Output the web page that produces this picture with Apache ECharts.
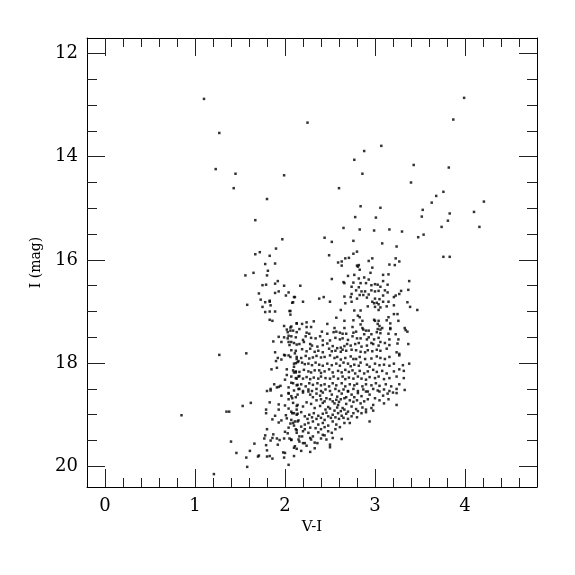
<!DOCTYPE html>
<html><head><meta charset="utf-8">
<script src="https://cdn.jsdelivr.net/npm/echarts@6/dist/echarts.min.js"></script>
<style>html,body{margin:0;padding:0;background:#fff}#c{width:575px;height:575px}</style>
</head><body><div id="c"></div>
<script>
// V-I colour, I magnitude pairs
const brightStars = [[1.10,12.88],[3.99,12.86],[1.27,13.54],[2.25,13.34],[3.87,13.28],[1.23,14.24],[1.45,14.33],[1.99,14.36],[1.43,14.61],[1.80,14.82],[1.67,15.23],[3.07,13.79],[2.88,13.89],[2.77,14.06],[3.43,14.16],[3.82,14.21],[2.86,14.33],[3.40,14.50],[2.60,14.61],[3.76,14.68],[3.68,14.76],[4.21,14.87],[3.63,14.89],[2.84,14.96],[3.06,14.99],[3.53,15.03],[3.83,15.10],[4.10,15.07],[2.78,15.17],[3.01,15.18],[3.52,15.16],[3.81,15.24],[2.65,15.38],[2.83,15.41],[2.99,15.43],[3.16,15.41],[3.30,15.45],[3.74,15.36],[4.16,15.36],[2.44,15.57],[2.52,15.65],[2.76,15.63],[3.08,15.68],[3.24,15.74],[3.48,15.56],[3.54,15.51],[1.97,15.60],[1.90,15.78],[3.76,15.94],[3.83,15.94]];
const blueStragglers = [[0.85,19.01],[1.27,17.84],[1.21,20.15],[1.35,18.94],[1.38,18.94],[1.53,18.83],[1.40,19.52],[1.46,19.74],[1.57,17.81],[1.62,18.77],[1.66,19.56],[1.61,19.70],[1.57,19.83],[1.58,20.01]];
const leftPlume = [[1.72,15.85],[1.67,15.89],[1.83,15.92],[1.78,16.08],[1.89,16.07],[1.81,16.21],[1.65,16.25],[1.56,16.30],[1.80,16.30],[1.92,16.41],[1.89,16.46],[1.75,16.49],[1.79,16.48],[1.99,16.50],[1.71,16.65],[1.89,16.64],[1.93,16.61],[2.04,16.63],[2.01,16.69],[2.11,16.72],[1.73,16.77],[1.83,16.79],[1.83,16.81],[1.78,16.82],[2.08,16.83],[1.58,16.87],[1.84,16.88],[1.75,16.91],[1.78,17.01],[1.83,17.00],[1.89,17.00],[2.06,16.99],[2.06,17.06],[1.83,17.16],[1.86,17.18],[1.99,17.28],[2.06,17.31],[2.07,17.29],[2.13,17.23],[2.02,17.35],[2.06,17.37],[2.03,17.40],[2.13,17.40],[1.93,17.49],[2.04,17.47],[2.03,17.52],[1.99,17.50],[1.87,17.58],[1.96,17.59],[2.04,17.59],[2.07,17.59],[2.05,17.65],[2.13,17.64],[1.89,17.79],[1.99,17.84],[2.00,17.85],[2.04,17.85],[2.11,17.81],[1.92,17.90],[1.96,17.93],[1.90,17.96],[2.13,17.92],[2.15,17.96],[2.12,18.00],[2.10,18.07],[1.85,18.12],[1.91,18.09],[2.02,18.12],[2.10,18.18],[2.12,18.18],[2.02,18.23],[2.15,18.26],[2.00,18.32],[2.13,18.30],[2.07,18.38],[1.88,18.41],[1.93,18.46],[1.91,18.47],[1.95,18.44],[2.14,18.42],[1.84,18.50],[1.80,18.54],[2.04,18.47],[2.04,18.58],[2.15,18.50]];
const faintLeft = [[1.84,18.53],[1.96,18.63],[2.04,18.59],[2.14,18.61],[2.04,18.70],[2.08,18.68],[1.83,18.76],[1.93,18.80],[2.00,18.82],[2.13,18.83],[1.79,18.90],[1.79,18.97],[1.93,18.90],[2.04,18.88],[2.07,18.94],[2.13,18.90],[1.89,19.02],[2.01,19.01],[2.10,18.97],[2.14,18.98],[1.86,19.09],[1.96,19.11],[2.02,19.07],[2.07,19.10],[2.11,19.13],[2.15,19.11],[1.93,19.15],[2.06,19.17],[2.10,19.21],[1.80,19.28],[2.04,19.25],[2.12,19.28],[2.13,19.30],[1.78,19.40],[1.87,19.38],[2.00,19.33],[2.03,19.36],[1.77,19.46],[1.86,19.45],[1.84,19.50],[1.91,19.46],[1.94,19.49],[1.99,19.46],[2.05,19.46],[2.07,19.49],[2.15,19.48],[1.92,19.58],[1.79,19.59],[2.10,19.64],[2.13,19.66],[1.80,19.69],[1.98,19.73],[2.00,19.74],[1.70,19.81],[1.71,19.79],[1.80,19.81],[1.83,19.80],[1.86,19.85],[1.99,19.83],[2.04,19.97]];
const giantBranch = [[2.49,15.91],[2.76,15.88],[2.80,15.84],[2.71,15.96],[2.67,15.97],[2.63,16.03],[2.59,16.05],[2.97,15.97],[2.93,16.02],[3.23,15.97],[3.27,16.03],[2.63,16.11],[2.80,16.11],[2.82,16.10],[2.81,16.13],[3.16,16.09],[3.22,16.10],[2.97,16.15],[2.83,16.19],[2.70,16.31],[2.77,16.29],[2.95,16.25],[3.09,16.29],[3.15,16.28],[2.52,16.37],[2.82,16.36],[2.88,16.34],[2.93,16.38],[3.09,16.41],[2.65,16.43],[2.66,16.45],[2.76,16.44],[2.84,16.45],[2.90,16.45],[3.00,16.47],[3.03,16.48],[2.17,16.50],[2.74,16.52],[2.82,16.53],[2.96,16.49],[3.06,16.52],[3.14,16.48],[3.38,16.41],[2.79,16.59],[2.85,16.61],[2.89,16.61],[2.96,16.59],[3.00,16.61],[3.04,16.60],[3.11,16.59],[3.14,16.63],[3.29,16.60],[3.37,16.58],[2.74,16.66],[2.83,16.68],[2.87,16.68],[2.93,16.67],[3.09,16.69],[3.27,16.66],[2.10,16.72],[2.38,16.75],[2.43,16.72],[2.66,16.71],[2.73,16.72],[2.80,16.75],[2.91,16.73],[3.00,16.75],[3.05,16.76],[3.21,16.72],[3.23,16.69],[2.20,16.81],[2.50,16.81],[2.67,16.84],[2.74,16.81],[2.97,16.81],[2.99,16.84],[3.02,16.83],[3.04,16.86],[3.09,16.81],[3.15,16.81],[3.36,16.82],[2.09,16.82],[2.92,16.90],[3.00,16.91],[3.06,16.92],[3.13,16.90],[3.21,16.88],[3.39,16.91],[3.47,16.97],[2.05,16.99],[2.62,16.97],[2.77,16.98],[2.84,16.98],[3.04,16.97],[3.21,17.05],[3.25,17.05],[2.81,17.08],[2.83,17.11],[2.57,17.12],[3.15,17.11],[2.66,17.18],[2.76,17.17],[2.86,17.18],[2.99,17.16],[3.00,17.18],[3.04,17.18],[3.13,17.17],[3.26,17.18],[2.13,17.23],[2.19,17.24],[2.24,17.21],[2.32,17.19],[2.47,17.24],[2.84,17.25],[3.03,17.24],[3.17,17.23],[2.24,17.30],[2.29,17.30],[2.55,17.32],[2.66,17.32],[2.75,17.30],[2.86,17.32],[3.05,17.28],[3.08,17.32],[3.17,17.32],[3.33,17.32]];
const midBody = [[2.87,17.35],[2.90,17.37],[2.93,17.37],[3.03,17.34],[3.06,17.35],[3.17,17.34],[3.34,17.36],[3.36,17.39],[2.09,17.37],[2.16,17.34],[2.24,17.41],[2.27,17.43],[2.41,17.39],[2.47,17.43],[2.54,17.40],[2.57,17.39],[2.61,17.41],[2.64,17.43],[2.68,17.43],[2.76,17.41],[2.79,17.39],[2.88,17.44],[2.96,17.44],[3.02,17.40],[3.06,17.42],[3.15,17.43],[3.23,17.44],[2.07,17.48],[2.12,17.50],[2.20,17.55],[2.23,17.48],[2.29,17.51],[2.34,17.52],[2.39,17.48],[2.42,17.56],[2.50,17.56],[2.56,17.51],[2.61,17.54],[2.64,17.52],[2.70,17.55],[2.75,17.48],[2.80,17.52],[2.84,17.52],[2.91,17.54],[2.93,17.50],[2.99,17.54],[3.04,17.51],[3.06,17.59],[3.16,17.54],[3.26,17.54],[2.10,17.61],[2.16,17.63],[2.21,17.59],[2.28,17.63],[2.30,17.66],[2.36,17.68],[2.42,17.65],[2.47,17.62],[2.53,17.67],[2.58,17.71],[2.62,17.70],[2.66,17.67],[2.69,17.63],[2.73,17.66],[2.78,17.63],[2.82,17.61],[2.85,17.68],[2.91,17.66],[2.96,17.61],[2.98,17.63],[3.04,17.66],[3.11,17.61],[3.16,17.65],[3.25,17.62],[3.37,17.63],[2.07,17.75],[2.12,17.76],[2.19,17.73],[2.24,17.77],[2.28,17.72],[2.33,17.78],[2.37,17.76],[2.42,17.79],[2.49,17.72],[2.52,17.77],[2.56,17.76],[2.62,17.78],[2.64,17.74],[2.68,17.76],[2.74,17.74],[2.79,17.75],[2.84,17.78],[2.89,17.79],[2.92,17.75],[2.97,17.77],[3.02,17.74],[3.06,17.76],[3.13,17.72],[3.24,17.79],[3.27,17.82],[2.06,17.88],[2.13,17.88],[2.18,17.90],[2.23,17.86],[2.27,17.91],[2.31,17.89],[2.35,17.86],[2.40,17.89],[2.44,17.88],[2.50,17.85],[2.55,17.90],[2.58,17.88],[2.62,17.93],[2.67,17.90],[2.73,17.87],[2.76,17.92],[2.79,17.92],[2.83,17.88],[2.89,17.92],[2.96,17.91],[3.02,17.87],[3.06,17.90],[3.11,17.92],[3.16,17.88],[3.27,17.85],[2.10,18.01],[2.14,17.98],[2.19,17.99],[2.22,18.02],[2.26,18.01],[2.30,18.04],[2.34,17.99],[2.38,18.03],[2.42,18.05],[2.47,18.01],[2.52,18.04],[2.57,18.01],[2.61,18.05],[2.65,17.99],[2.70,18.01],[2.73,18.06],[2.77,18.03],[2.82,18.05],[2.84,17.99],[2.91,18.03],[2.94,18.07],[3.00,18.01],[3.05,18.04],[3.10,18.03],[3.16,18.05],[3.21,18.01],[3.31,18.04],[3.38,18.01],[2.09,18.14],[2.12,18.16],[2.16,18.17],[2.21,18.13],[2.26,18.16],[2.29,18.18],[2.33,18.14],[2.38,18.14],[2.40,18.19],[2.44,18.16],[2.49,18.12],[2.53,18.18],[2.59,18.15],[2.63,18.18],[2.67,18.13],[2.71,18.17],[2.75,18.14],[2.78,18.20],[2.83,18.15],[2.88,18.20],[2.92,18.16],[2.98,18.13],[3.02,18.17],[3.08,18.15],[3.13,18.20],[3.21,18.16],[3.27,18.12],[3.32,18.15],[2.07,18.26],[2.12,18.29],[2.16,18.25],[2.20,18.30],[2.24,18.27],[2.28,18.31],[2.32,18.28],[2.37,18.30],[2.40,18.26],[2.45,18.29],[2.50,18.30],[2.54,18.26],[2.59,18.30],[2.64,18.26],[2.67,18.31],[2.71,18.28],[2.76,18.30],[2.81,18.26],[2.85,18.30],[2.90,18.32],[2.94,18.27],[3.00,18.29],[3.04,18.26],[3.10,18.31],[3.16,18.29],[3.24,18.26],[3.32,18.29],[2.09,18.39],[2.13,18.43],[2.18,18.41],[2.23,18.45],[2.27,18.39],[2.31,18.42],[2.36,18.39],[2.40,18.43],[2.44,18.41],[2.49,18.45],[2.53,18.39],[2.57,18.43],[2.63,18.39],[2.67,18.45],[2.72,18.41],[2.77,18.43],[2.80,18.40],[2.86,18.45],[2.90,18.41],[2.96,18.43],[3.01,18.39],[3.05,18.44],[3.12,18.41],[3.18,18.45],[3.27,18.41],[2.10,18.53],[2.16,18.50],[2.20,18.54],[2.26,18.51],[2.30,18.54],[2.35,18.50],[2.40,18.54],[2.45,18.51],[2.50,18.54],[2.56,18.50],[2.60,18.54],[2.65,18.51],[2.70,18.54],[2.76,18.50],[2.81,18.54],[2.87,18.51],[2.92,18.55],[2.98,18.50],[3.03,18.53],[3.10,18.51],[3.16,18.54],[3.24,18.50],[3.33,18.52]];
const faintBody = [[2.07,18.64],[2.12,18.66],[2.20,18.57],[2.26,18.55],[2.28,18.61],[2.31,18.66],[2.35,18.59],[2.39,18.63],[2.42,18.57],[2.46,18.68],[2.52,18.61],[2.53,18.74],[2.57,18.71],[2.63,18.59],[2.66,18.68],[2.70,18.55],[2.74,18.61],[2.77,18.66],[2.81,18.58],[2.85,18.64],[2.90,18.55],[2.94,18.61],[2.98,18.81],[3.05,18.55],[3.09,18.63],[3.14,18.59],[3.20,18.57],[3.24,18.58],[3.24,18.81],[2.94,19.13],[2.72,19.16],[2.81,18.93],[2.85,18.97],[2.90,18.90],[2.96,18.87],[2.09,18.77],[2.14,18.81],[2.20,18.84],[2.24,18.76],[2.29,18.79],[2.33,18.87],[2.39,18.83],[2.42,18.77],[2.48,18.85],[2.59,18.81],[2.64,18.87],[2.68,18.79],[2.74,18.84],[2.79,18.89],[2.08,18.97],[2.13,19.00],[2.18,18.95],[2.22,19.03],[2.27,19.00],[2.32,18.97],[2.37,19.02],[2.42,18.98],[2.48,19.03],[2.53,19.00],[2.59,18.97],[2.63,19.02],[2.68,18.98],[2.74,19.03],[2.09,19.16],[2.14,19.13],[2.18,19.23],[2.22,19.19],[2.26,19.16],[2.31,19.13],[2.37,19.19],[2.42,19.16],[2.48,19.21],[2.53,19.13],[2.57,19.19],[2.61,19.24],[2.66,19.16],[2.13,19.35],[2.20,19.32],[2.19,19.42],[2.26,19.35],[2.31,19.42],[2.37,19.34],[2.42,19.39],[2.48,19.32],[2.52,19.35],[2.53,19.45],[2.07,19.48],[2.16,19.52],[2.22,19.55],[2.29,19.48],[2.33,19.54],[2.46,19.48],[2.50,19.58],[2.63,19.47],[2.11,19.61],[2.33,19.65],[2.50,19.63]];
const clumpCore = [[2.35,18.72],[2.40,18.70],[2.44,18.74],[2.50,18.70],[2.55,18.78],[2.60,18.75],[2.45,18.90],[2.50,18.88],[2.55,18.92],[2.58,18.86],[2.62,18.93],[2.66,18.90],[2.70,18.94],[2.46,18.96],[2.51,19.06],[2.56,19.05],[2.60,19.08],[2.65,19.06],[2.70,19.08],[2.40,19.06],[2.35,19.08],[2.30,19.05],[2.25,19.08],[2.44,19.10],[2.58,18.65],[2.62,18.70],[2.68,18.66],[2.72,18.72],[2.76,18.75],[2.80,18.72],[2.84,18.78],[2.88,18.74],[2.92,18.70],[3.00,18.68],[3.05,18.72],[3.10,18.78],[3.15,18.70],[2.86,18.86],[2.90,18.95],[2.98,18.92],[2.76,18.97],[2.80,19.05],[2.34,19.26],[2.40,19.28],[2.44,19.24],[2.28,19.25],[2.22,19.28],[2.56,19.28],[2.16,19.42],[2.28,19.45],[2.40,19.46],[2.24,19.60],[2.18,19.70],[2.28,19.72],[2.10,19.80],[2.20,19.55],[2.36,19.55],[2.44,19.40]];

const xMajor = [0,1,2,3,4];
const xMinor = [0.2,0.4,0.6,0.8,1.2,1.4,1.6,1.8,2.2,2.4,2.6,2.8,3.2,3.4,3.6,3.8,4.2,4.4,4.6];
const yMajor = [12,14,16,18,20];
const yMinor = [12.5,13,13.5,14.5,15,15.5,16.5,17,17.5,18.5,19,19.5];

const FONT = 'DejaVu Serif';
const black = '#000';
function xAx(pos, major, withLabels) {
  return {
    type:'value', min:-0.2, max:4.8, position:pos,
    axisLine:{show:major, onZero:false, lineStyle:{color:black, width:1}},
    axisTick:{show:true, inside:true, length: major?18:9, customValues: major?xMajor:xMinor, lineStyle:{color:'#222', width:1}},
    axisLabel:{show:withLabels, customValues:xMajor, fontFamily:FONT, fontSize:18, color:black, margin:10},
    splitLine:{show:false},
    name: withLabels ? 'V-I' : '', nameLocation:'middle', nameGap:28,
    nameTextStyle:{fontFamily:FONT, fontSize:15, color:black}
  };
}
function yAx(pos, major, withLabels) {
  return {
    type:'value', min:11.7, max:20.4, inverse:true, position:pos,
    axisLine:{show:major, onZero:false, lineStyle:{color:black, width:1}},
    axisTick:{show:true, inside:true, length: major?18:10, customValues: major?yMajor:yMinor, lineStyle:{color:'#222', width:1}},
    axisLabel:{show:withLabels, customValues:yMajor, fontFamily:FONT, fontSize:18, color:black, margin:9},
    splitLine:{show:false},
    name: withLabels ? 'I (mag)' : '', nameLocation:'middle', nameGap:44, nameRotate:90,
    nameTextStyle:{fontFamily:FONT, fontSize:14, color:black}
  };
}
const groups = [brightStars, blueStragglers, leftPlume, faintLeft, giantBranch, midBody, faintBody, clumpCore];
const chart = echarts.init(document.getElementById('c'), null, {renderer:'canvas'});
chart.setOption({
  animation:false,
  backgroundColor:'#fff',
  grid:{left:87, top:38, width:450, height:449, containLabel:false},
  xAxis:[xAx('bottom',true,true), xAx('bottom',false,false), xAx('top',true,false), xAx('top',false,false)],
  yAxis:[yAx('left',true,true), yAx('left',false,false), yAx('right',true,false), yAx('right',false,false)],
  series: groups.map(g => ({
    type:'scatter', xAxisIndex:0, yAxisIndex:0, data:g,
    symbol:'rect', symbolSize:2.5, itemStyle:{color:black}, silent:true
  }))
});
</script>
</body></html>
